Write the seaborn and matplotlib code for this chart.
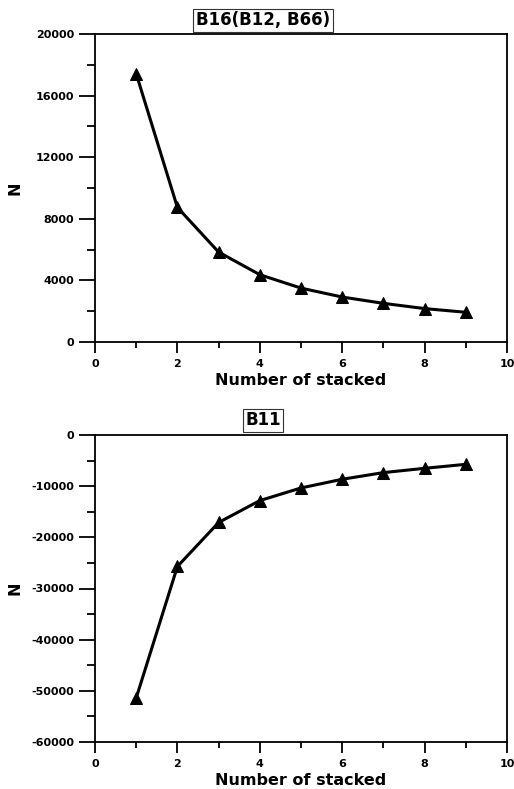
import matplotlib
matplotlib.use("Agg")
import matplotlib.pyplot as plt
import seaborn as sns
import pandas as pd
from matplotlib.ticker import MultipleLocator

sns.set_theme(style="white")
plt.rcParams['font.family'] = ['DejaVu Sans']
plt.rcParams['font.weight'] = 'bold'
plt.rcParams['axes.unicode_minus'] = False
plt.rcParams['text.color'] = 'black'
plt.rcParams['axes.labelcolor'] = 'black'
plt.rcParams['xtick.color'] = 'black'
plt.rcParams['ytick.color'] = 'black'

stacked = [1, 2, 3, 4, 5, 6, 7, 8, 9]
n_b16 = [17420, 8740, 5840, 4370, 3500, 2920, 2510, 2170, 1930]
n_b11 = [-51400, -25700, -17100, -12820, -10350, -8650, -7350, -6510, -5730]
titles = ["B16(B12, B66)", "B11"]

fig = plt.figure(figsize=(5.14, 7.89), dpi=100)
W, H = 514, 789
ax1 = fig.add_axes([95 / W, 1 - 342 / H, (507 - 95) / W, (342 - 34) / H])
ax2 = fig.add_axes([95 / W, 1 - 742 / H, (507 - 95) / W, (742 - 435) / H])

px = 72 / 100  # points per pixel

specs = [
    (ax1, n_b16, titles[0], (0, 20000), 4000, 2000, 20, 188),
    (ax2, n_b11, titles[1], (-60000, 0), 10000, 5000, 420, 588),
]
for ax, vals, title, ylim, major, minor, ty, ny in specs:
    df = pd.DataFrame({"x": stacked, "y": vals})
    sns.lineplot(data=df, x="x", y="y", ax=ax, color="black", linewidth=2.2,
                 marker="^", markersize=9, markeredgecolor="black",
                 markerfacecolor="black")
    ax.set_xlim(0, 10)
    ax.set_ylim(*ylim)
    ax.xaxis.set_major_locator(MultipleLocator(2))
    ax.xaxis.set_minor_locator(MultipleLocator(1))
    ax.yaxis.set_major_locator(MultipleLocator(major))
    ax.yaxis.set_minor_locator(MultipleLocator(minor))
    ax.tick_params(which="both", direction="out", bottom=True, left=True,
                   top=False, right=False, color="black", width=1.3)
    ax.tick_params(which="major", labelsize=8)
    ax.tick_params(axis="y", which="major", length=16 * px, pad=5 * px)
    ax.tick_params(axis="y", which="minor", length=8 * px)
    ax.tick_params(axis="x", which="major", length=11 * px, pad=6 * px)
    ax.tick_params(axis="x", which="minor", length=6 * px)
    for lbl in ax.get_xticklabels() + ax.get_yticklabels():
        lbl.set_fontweight("bold")
    for s in ax.spines.values():
        s.set_color("black")
        s.set_linewidth(1.3)
    ax.set_xlabel("Number of stacked", fontsize=11.5, fontweight="bold", labelpad=3)
    ax.set_ylabel("")
    fig.text(15 / W, 1 - ny / H, "N", fontsize=11.5, fontweight="bold",
             rotation=90, ha="center", va="center")
    fig.text(263 / W, 1 - ty / H, title, fontsize=12, fontweight="bold",
             ha="center", va="center",
             bbox=dict(boxstyle="square,pad=0.15", facecolor="white",
                       edgecolor="#333333", linewidth=0.8))

fig.savefig("out.png", dpi=100)
